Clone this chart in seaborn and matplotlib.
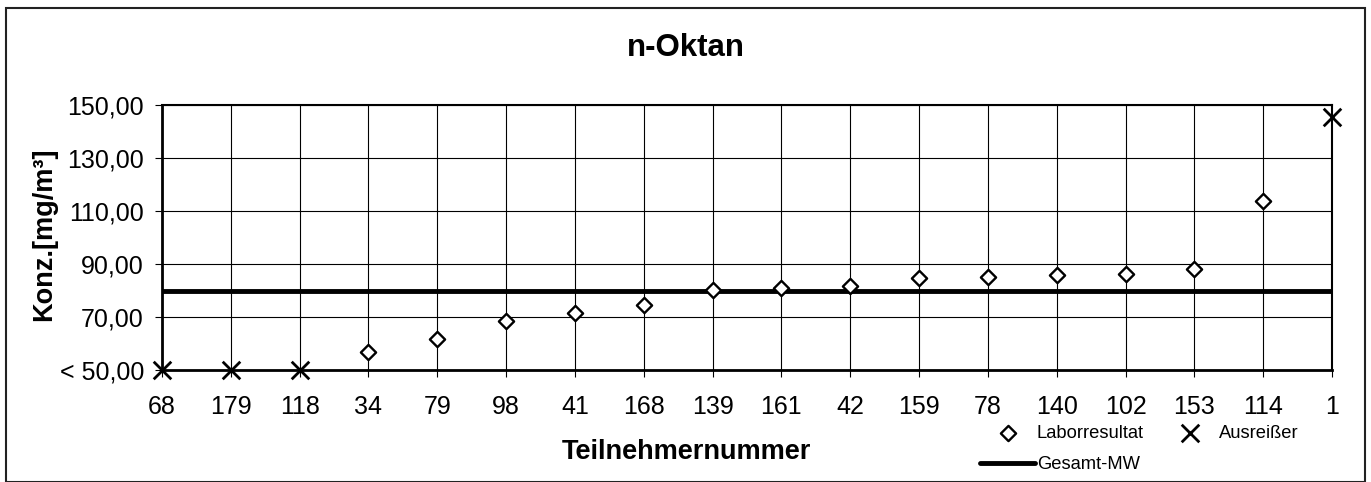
import matplotlib
matplotlib.use("Agg")
import matplotlib.pyplot as plt
import seaborn as sns
import pandas as pd
from matplotlib.patches import Rectangle
from matplotlib.ticker import FixedLocator, FuncFormatter

participants = ["68", "179", "118", "34", "79", "98", "41", "168", "139",
                "161", "42", "159", "78", "140", "102", "153", "114", "1"]
values = [50.0, 50.0, 50.0, 56.8, 61.7, 68.5, 71.5, 74.5, 80.2,
          81.0, 81.7, 84.7, 85.0, 85.8, 86.2, 88.0, 113.8, 145.5]
outlier = [True, True, True, False, False, False, False, False, False,
           False, False, False, False, False, False, False, False, True]
overall_mean = 80.0
y_ticks = [50, 70, 90, 110, 130, 150]

df = pd.DataFrame({"pos": range(len(participants)), "val": values, "out": outlier})

sns.set_style("white")
plt.rcParams["font.family"] = ["Liberation Sans", "DejaVu Sans"]
for k in ["text.color", "axes.labelcolor", "xtick.color", "ytick.color", "axes.edgecolor"]:
    plt.rcParams[k] = "black"

W, H = 1371, 482
fig = plt.figure(figsize=(W / 100, H / 100), dpi=100)
fig.patches.append(Rectangle((6 / W, 0.5 / H), (1365 - 6) / W, (H - 8 - 0.5) / H,
                             transform=fig.transFigure, fill=False,
                             edgecolor="#222222", linewidth=1.5))
ax = fig.add_axes([162 / W, 1 - 370 / H, 1170 / W, 265 / H])

ax.set_xlim(0, len(participants) - 1)
ax.set_ylim(50, 150)
ax.grid(True, color="black", linewidth=0.8)
ax.set_axisbelow(True)

lab = df[~df["out"]]
out = df[df["out"]]
ax.axhline(overall_mean, color="black", linewidth=3.5, zorder=3, label="Gesamt-MW")
sns.scatterplot(data=lab, x="pos", y="val", marker="D", s=60, facecolor="white",
                edgecolor="black", linewidth=1.7, ax=ax, zorder=4, label="Laborresultat")
sns.scatterplot(data=out, x="pos", y="val", marker="x", s=160, color="black",
                linewidth=2.0, ax=ax, zorder=5, label="Ausreißer", clip_on=False)

ax.xaxis.set_major_locator(FixedLocator(list(range(len(participants)))))
ax.set_xticklabels(participants)
ax.yaxis.set_major_locator(FixedLocator(y_ticks))
ax.yaxis.set_major_formatter(FuncFormatter(
    lambda v, p: ("< " if v == 50 else "") + f"{v:.2f}".replace(".", ",")))
ax.tick_params(axis="both", which="major", labelsize=18, length=5, width=0.8,
               direction="out", color="black", bottom=True, left=True)
ax.tick_params(axis="x", pad=13)
ax.tick_params(axis="y", pad=8)
for s in ax.spines.values():
    s.set_color("black")
    s.set_linewidth(1.5)
ax.spines["left"].set_linewidth(2)
ax.spines["bottom"].set_linewidth(2)

ax.set_xlabel("")
ax.set_ylabel("")
fig.text(44 / W, 1 - 234 / H, "Konz.[mg/m³]", fontsize=19.5, fontweight="bold",
         rotation=90, ha="center", va="center")
fig.text(686 / W, 1 - 452 / H, "Teilnehmernummer", fontsize=19.5,
         fontweight="bold", ha="center", va="center")
fig.text(686 / W, 1 - 48 / H, "n-Oktan", fontsize=22.5,
         fontweight="bold", ha="center", va="center")

h, l = ax.get_legend_handles_labels()
order = [l.index("Laborresultat"), l.index("Gesamt-MW"), l.index("Ausreißer")]
leg = ax.legend([h[i] for i in order], [l[i] for i in order], ncol=2, frameon=False,
                fontsize=13.2, loc="upper left", bbox_to_anchor=(980 / W, 1 - 425 / H),
                bbox_transform=fig.transFigure, columnspacing=1.0, handletextpad=0.1,
                handlelength=3.0, labelspacing=0.77, borderpad=0, borderaxespad=0)

fig.savefig("out.png", dpi=100)
